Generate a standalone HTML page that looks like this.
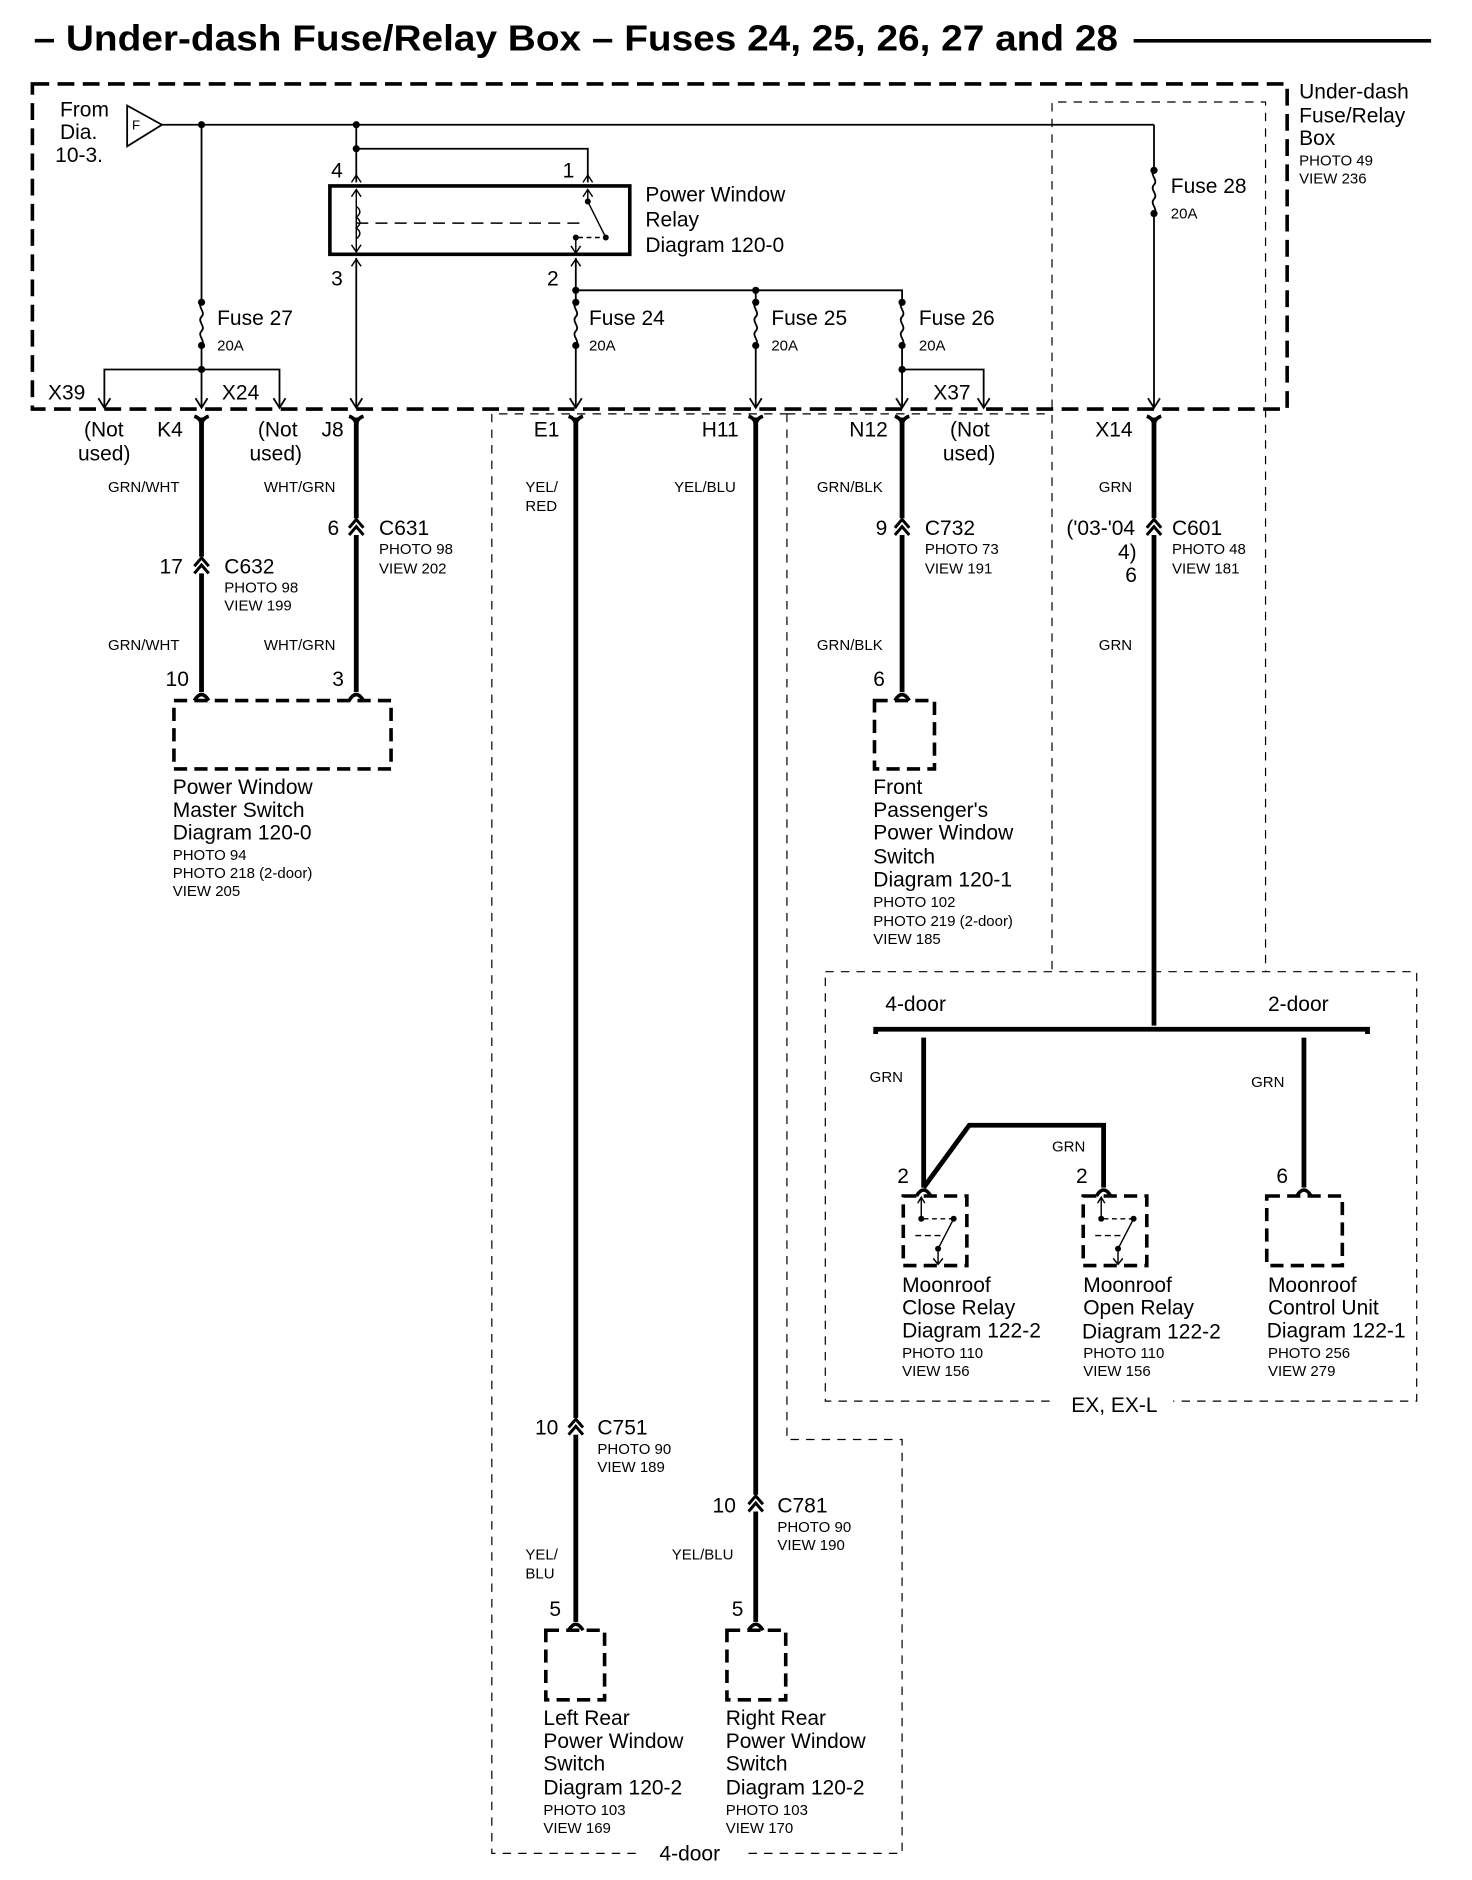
<!DOCTYPE html>
<html><head><meta charset="utf-8"><style>
html,body{margin:0;padding:0;background:#fff}
svg{display:block}
text{font-family:"Liberation Sans",sans-serif;fill:#000}
.L{font-size:17.5px}
.S{font-size:12.5px}
</style></head><body>
<svg width="1472" height="1880" viewBox="0 0 1227.1 1567.2" preserveAspectRatio="none" xmlns="http://www.w3.org/2000/svg">
<defs>
<g id="arr"><polyline points="-5,-8 0,0 5,-8" fill="none" stroke="#000" stroke-width="1.5"/></g>
<g id="fem"><path d="M-6,-5 Q0,-3 0,3 Q0,-3 6,-5" fill="none" stroke="#000" stroke-width="3"/></g>
<g id="inl"><path d="M-6,4 L0,-3 L6,4 M-6,10 L0,3 L6,10" fill="none" stroke="#000" stroke-width="2.5"/></g>
<g id="pin"><path d="M-6,6 Q0,-4 6,6" fill="none" stroke="#000" stroke-width="3"/></g>
<g id="fuse"><path d="M0,0 c-4,4 4,8 0,12 c-4,4 4,8 0,12 c-4,4 4,8 0,12" fill="none" stroke="#000" stroke-width="1.5"/></g>
</defs>
<text x="28" y="42" font-size="30" font-weight="bold" textLength="904" lengthAdjust="spacingAndGlyphs">– Under-dash Fuse/Relay Box – Fuses 24, 25, 26, 27 and 28</text>
<line x1="945" y1="34" x2="1193" y2="34" stroke="#000" stroke-width="3"/>

<rect x="27" y="70" width="1046" height="271" fill="none" stroke="#000" stroke-width="3" stroke-dasharray="14 7"/>
<text class="L" x="1083" y="82">Under-dash</text><text class="L" x="1083" y="102">Fuse/Relay</text><text class="L" x="1083" y="121">Box</text>
<text class="S" x="1083" y="138">PHOTO 49</text><text class="S" x="1083" y="153">VIEW 236</text>
<text class="L" x="50" y="97">From</text><text class="L" x="50" y="116">Dia.</text><text class="L" x="46" y="135">10-3.</text>
<polygon points="106,88 106,122 135,104" fill="#fff" stroke="#000" stroke-width="1.5"/><text x="110" y="108" font-size="11">F</text>

<g fill="none" stroke="#000" stroke-width="1" stroke-dasharray="7 6">
<polyline points="877,808 877,85 1055,85 1055,810"/>
<rect x="688" y="810" width="493" height="358"/>
<polyline points="656,345 875,345"/>
<polyline points="656,345 656,1200 752,1200 752,1545 620,1545"/>
<polyline points="530,1545 410,1545 410,345 656,345"/>
</g>
<rect x="880" y="1160" width="98" height="16" fill="#fff"/>
<text class="L" x="929" y="1177" text-anchor="middle">EX, EX-L</text>
<text class="L" x="575" y="1551" text-anchor="middle">4-door</text>

<g stroke="#000" stroke-width="1.5" fill="none">
<line x1="135" y1="104" x2="962" y2="104"/>
<line x1="168" y1="104" x2="168" y2="252"/><line x1="168" y1="288" x2="168" y2="340"/>
<polyline points="87,340 87,308 233,308 233,340"/>
<line x1="297" y1="104" x2="297" y2="152"/>
<polyline points="297,124 490,124 490,152"/>
<line x1="297" y1="215" x2="297" y2="340"/>
<line x1="480" y1="215" x2="480" y2="252"/><line x1="480" y1="288" x2="480" y2="340"/>
<polyline points="480,242 752,242 752,252"/>
<line x1="630" y1="242" x2="630" y2="252"/><line x1="630" y1="288" x2="630" y2="340"/>
<line x1="752" y1="288" x2="752" y2="340"/>
<polyline points="752,308 820,308 820,340"/>
<line x1="962" y1="104" x2="962" y2="142"/><line x1="962" y1="178" x2="962" y2="340"/>
</g>
<g fill="#000">
<circle cx="168" cy="104" r="3"/><circle cx="297" cy="104" r="3"/><circle cx="297" cy="124" r="3"/>
<circle cx="480" cy="242" r="3"/><circle cx="630" cy="242" r="3"/><circle cx="168" cy="308" r="3"/><circle cx="752" cy="308" r="3"/>
<circle cx="168" cy="252" r="3"/><circle cx="168" cy="288" r="3"/>
<circle cx="480" cy="252" r="3"/><circle cx="480" cy="288" r="3"/>
<circle cx="630" cy="252" r="3"/><circle cx="630" cy="288" r="3"/>
<circle cx="752" cy="252" r="3"/><circle cx="752" cy="288" r="3"/>
<circle cx="962" cy="142" r="3"/><circle cx="962" cy="178" r="3"/>
</g>
<use href="#fuse" x="168" y="252"/><use href="#fuse" x="480" y="252"/><use href="#fuse" x="630" y="252"/><use href="#fuse" x="752" y="252"/><use href="#fuse" x="962" y="142"/>
<g><use href="#arr" x="87" y="340"/><use href="#arr" x="168" y="340"/><use href="#arr" x="233" y="340"/><use href="#arr" x="297" y="340"/><use href="#arr" x="480" y="340"/><use href="#arr" x="630" y="340"/><use href="#arr" x="752" y="340"/><use href="#arr" x="820" y="340"/><use href="#arr" x="962" y="340"/></g>
<text class="L" x="181" y="271">Fuse 27</text><text class="S" x="181" y="292">20A</text>
<text class="L" x="491" y="271">Fuse 24</text><text class="S" x="491" y="292">20A</text>
<text class="L" x="643" y="271">Fuse 25</text><text class="S" x="643" y="292">20A</text>
<text class="L" x="766" y="271">Fuse 26</text><text class="S" x="766" y="292">20A</text>
<text class="L" x="976" y="161">Fuse 28</text><text class="S" x="976" y="182">20A</text>
<text class="L" x="40" y="333">X39</text><text class="L" x="185" y="333">X24</text><text class="L" x="778" y="333">X37</text>

<rect x="275" y="155" width="250" height="57" fill="none" stroke="#000" stroke-width="3"/>
<g stroke="#000" stroke-width="1.2" fill="none">
<path d="M293,152 L297,146 L301,152 M486,152 L490,146 L494,152"/>
<line x1="297" y1="158" x2="297" y2="210"/><path d="M293,164 L297,158 L301,164 M293,204 L297,210 L301,204"/>
<path d="M297,172 c4,3 4,6 0,9 c4,3 4,6 0,9 c4,3 4,6 0,9"/>
<line x1="297" y1="186" x2="488" y2="186" stroke-dasharray="10 6"/>
<line x1="490" y1="158" x2="490" y2="168"/><path d="M486,164 L490,158 L494,164"/>
<line x1="490" y1="168" x2="505" y2="198"/>
<line x1="480" y1="198" x2="480" y2="211"/><path d="M476,205 L480,211 L484,205"/>
<line x1="482" y1="198" x2="503" y2="198" stroke-dasharray="4 3"/>
<path d="M293,222 L297,216 L301,222 M476,222 L480,216 L484,222"/>
</g>
<g fill="#000"><circle cx="490" cy="168" r="2.5"/><circle cx="505" cy="198" r="2.5"/><circle cx="480" cy="198" r="2.5"/></g>
<text class="L" x="276" y="148">4</text><text class="L" x="469" y="148">1</text>
<text class="L" x="276" y="238">3</text><text class="L" x="456" y="238">2</text>
<text class="L" x="538" y="168">Power Window</text><text class="L" x="538" y="189">Relay</text><text class="L" x="538" y="210">Diagram 120-0</text>

<g stroke="#000" stroke-width="4" fill="none">
<line x1="168" y1="348" x2="168" y2="577"/>
<line x1="297" y1="348" x2="297" y2="577"/>
<line x1="480" y1="348" x2="480" y2="1352"/>
<line x1="630" y1="348" x2="630" y2="1352"/>
<line x1="752" y1="348" x2="752" y2="577"/>
<line x1="962" y1="348" x2="962" y2="855"/>
<path d="M730,862 V858 H1140 V862"/>
<line x1="770" y1="865" x2="770" y2="990"/>
<line x1="1087" y1="865" x2="1087" y2="990"/>
<polyline points="770,990 808,938 920,938 920,990"/>
</g>
<g><use href="#fem" x="168" y="352"/><use href="#fem" x="297" y="352"/><use href="#fem" x="480" y="352"/><use href="#fem" x="630" y="352"/><use href="#fem" x="752" y="352"/><use href="#fem" x="962" y="352"/></g>
<g fill="#fff"><rect x="162" y="464" width="12" height="14"/><rect x="291" y="432" width="12" height="14"/><rect x="746" y="432" width="12" height="14"/><rect x="956" y="432" width="12" height="14"/><rect x="474" y="1182" width="12" height="14"/><rect x="624" y="1246" width="12" height="14"/></g>
<g><use href="#inl" x="168" y="468"/><use href="#inl" x="297" y="436"/><use href="#inl" x="752" y="436"/><use href="#inl" x="962" y="436"/><use href="#inl" x="480" y="1186"/><use href="#inl" x="630" y="1250"/></g>
<g><use href="#pin" x="168" y="578"/><use href="#pin" x="297" y="578"/><use href="#pin" x="752" y="578"/><use href="#pin" x="480" y="1353"/><use href="#pin" x="630" y="1353"/><use href="#pin" x="770" y="991"/><use href="#pin" x="920" y="991"/><use href="#pin" x="1087" y="991"/></g>

<text class="L" x="70" y="364">(Not</text><text class="L" x="65" y="384">used)</text><text class="L" x="131" y="364">K4</text>
<text class="L" x="215" y="364">(Not</text><text class="L" x="208" y="384">used)</text><text class="L" x="268" y="364">J8</text>
<text class="L" x="445" y="364">E1</text><text class="L" x="585" y="364">H11</text><text class="L" x="708" y="364">N12</text>
<text class="L" x="792" y="364">(Not</text><text class="L" x="786" y="384">used)</text><text class="L" x="913" y="364">X14</text>
<text class="S" x="90" y="410">GRN/WHT</text><text class="S" x="220" y="410">WHT/GRN</text>
<text class="S" x="438" y="410">YEL/</text><text class="S" x="438" y="426">RED</text><text class="S" x="562" y="410">YEL/BLU</text>
<text class="S" x="681" y="410">GRN/BLK</text><text class="S" x="916" y="410">GRN</text>

<text class="L" x="133" y="478">17</text><text class="L" x="187" y="478">C632</text><text class="S" x="187" y="494">PHOTO 98</text><text class="S" x="187" y="509">VIEW 199</text>
<text class="L" x="273" y="446">6</text><text class="L" x="316" y="446">C631</text><text class="S" x="316" y="462">PHOTO 98</text><text class="S" x="316" y="478">VIEW 202</text>
<text class="L" x="730" y="446">9</text><text class="L" x="771" y="446">C732</text><text class="S" x="771" y="462">PHOTO 73</text><text class="S" x="771" y="478">VIEW 191</text>
<text class="L" x="889" y="446">('03-'04</text><text class="L" x="932" y="466">4)</text><text class="L" x="938" y="485">6</text>
<text class="L" x="977" y="446">C601</text><text class="S" x="977" y="462">PHOTO 48</text><text class="S" x="977" y="478">VIEW 181</text>
<text class="S" x="90" y="542">GRN/WHT</text><text class="S" x="220" y="542">WHT/GRN</text><text class="S" x="681" y="542">GRN/BLK</text><text class="S" x="916" y="542">GRN</text>
<text class="L" x="138" y="572">10</text><text class="L" x="277" y="572">3</text><text class="L" x="728" y="572">6</text>

<g fill="none" stroke="#000" stroke-width="3" stroke-dasharray="11 6">
<rect x="145" y="584" width="181" height="57"/>
<rect x="729" y="584" width="50" height="57"/>
<rect x="455" y="1359" width="49" height="58"/>
<rect x="606" y="1359" width="49" height="58"/>
<rect x="753" y="997" width="53" height="58"/>
<rect x="903" y="997" width="53" height="58"/>
<rect x="1056" y="997" width="63" height="58"/>
</g>
<text class="L" x="144" y="662">Power Window</text><text class="L" x="144" y="681">Master Switch</text><text class="L" x="144" y="700">Diagram 120-0</text>
<text class="S" x="144" y="717">PHOTO 94</text><text class="S" x="144" y="732">PHOTO 218 (2-door)</text><text class="S" x="144" y="747">VIEW 205</text>
<text class="L" x="728" y="662">Front</text><text class="L" x="728" y="681">Passenger's</text><text class="L" x="728" y="700">Power Window</text><text class="L" x="728" y="720">Switch</text><text class="L" x="728" y="739">Diagram 120-1</text>
<text class="S" x="728" y="756">PHOTO 102</text><text class="S" x="728" y="772">PHOTO 219 (2-door)</text><text class="S" x="728" y="787">VIEW 185</text>

<text class="L" x="738" y="843">4-door</text><text class="L" x="1057" y="843">2-door</text>
<text class="S" x="725" y="902">GRN</text><text class="S" x="1043" y="906">GRN</text><text class="S" x="877" y="960">GRN</text>
<text class="L" x="748" y="986">2</text><text class="L" x="897" y="986">2</text><text class="L" x="1064" y="986">6</text>
<g stroke="#000" stroke-width="1.2" fill="none">
<line x1="768" y1="998" x2="768" y2="1016"/><path d="M765,1003 L768,998 L771,1003"/>
<line x1="770" y1="1016" x2="795" y2="1016" stroke-dasharray="4 3"/>
<line x1="795" y1="1016" x2="782" y2="1041"/><line x1="763" y1="1030" x2="785" y2="1030" stroke-dasharray="5 3"/>
<line x1="782" y1="1041" x2="782" y2="1054"/><path d="M778,1049 L782,1054 L786,1049"/>
<line x1="918" y1="998" x2="918" y2="1016"/><path d="M915,1003 L918,998 L921,1003"/>
<line x1="920" y1="1016" x2="945" y2="1016" stroke-dasharray="4 3"/>
<line x1="945" y1="1016" x2="932" y2="1041"/><line x1="913" y1="1030" x2="935" y2="1030" stroke-dasharray="5 3"/>
<line x1="932" y1="1041" x2="932" y2="1054"/><path d="M928,1049 L932,1054 L936,1049"/>
</g>
<g fill="#000"><circle cx="768" cy="1016" r="2.5"/><circle cx="795" cy="1016" r="2.5"/><circle cx="782" cy="1041" r="2.5"/>
<circle cx="918" cy="1016" r="2.5"/><circle cx="945" cy="1016" r="2.5"/><circle cx="932" cy="1041" r="2.5"/></g>
<text class="L" x="752" y="1077">Moonroof</text><text class="L" x="752" y="1096">Close Relay</text><text class="L" x="752" y="1115">Diagram 122-2</text><text class="S" x="752" y="1132">PHOTO 110</text><text class="S" x="752" y="1147">VIEW 156</text>
<text class="L" x="903" y="1077">Moonroof</text><text class="L" x="903" y="1096">Open Relay</text><text class="L" x="902" y="1116">Diagram 122-2</text><text class="S" x="903" y="1132">PHOTO 110</text><text class="S" x="903" y="1147">VIEW 156</text>
<text class="L" x="1057" y="1077">Moonroof</text><text class="L" x="1057" y="1096">Control Unit</text><text class="L" x="1056" y="1115">Diagram 122-1</text><text class="S" x="1057" y="1132">PHOTO 256</text><text class="S" x="1057" y="1147">VIEW 279</text>

<text class="L" x="446" y="1196">10</text><text class="L" x="498" y="1196">C751</text><text class="S" x="498" y="1212">PHOTO 90</text><text class="S" x="498" y="1227">VIEW 189</text>
<text class="L" x="594" y="1261">10</text><text class="L" x="648" y="1261">C781</text><text class="S" x="648" y="1277">PHOTO 90</text><text class="S" x="648" y="1292">VIEW 190</text>
<text class="S" x="438" y="1300">YEL/</text><text class="S" x="438" y="1316">BLU</text><text class="S" x="560" y="1300">YEL/BLU</text>
<text class="L" x="458" y="1347">5</text><text class="L" x="610" y="1347">5</text>
<text class="L" x="453" y="1438">Left Rear</text><text class="L" x="453" y="1457">Power Window</text><text class="L" x="453" y="1476">Switch</text><text class="L" x="453" y="1496">Diagram 120-2</text><text class="S" x="453" y="1513">PHOTO 103</text><text class="S" x="453" y="1528">VIEW 169</text>
<text class="L" x="605" y="1438">Right Rear</text><text class="L" x="605" y="1457">Power Window</text><text class="L" x="605" y="1476">Switch</text><text class="L" x="605" y="1496">Diagram 120-2</text><text class="S" x="605" y="1513">PHOTO 103</text><text class="S" x="605" y="1528">VIEW 170</text>
</svg>
</body></html>
